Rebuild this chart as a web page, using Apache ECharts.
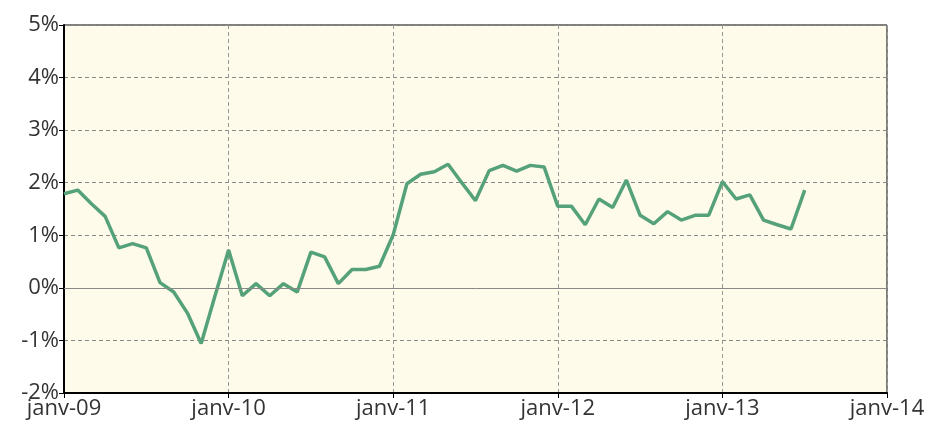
<!DOCTYPE html>
<html style="height: 100%">
<head>
  <meta charset="utf-8">
  <script src="https://cdn.jsdelivr.net/npm/echarts@6/dist/echarts.min.js"></script>
</head>
<body style="height: 100%; margin: 0; background: #fff">
  <div id="main" style="width: 936px; height: 434px"></div>
  <script type="text/javascript">
    // months from janv-09 to janv-14
    var years = ['09', '10', '11', '12', '13', '14'];
    var monthNames = ['janv', 'févr', 'mars', 'avr', 'mai', 'juin', 'juil', 'août', 'sept', 'oct', 'nov', 'déc'];
    // monthly values in %, janv-09 .. juil-13
    var values = [
      1.79, 1.86, 1.60, 1.36, 0.76, 0.84, 0.76, 0.10, -0.08, -0.48, -1.06, -0.16,
      0.72, -0.15, 0.08, -0.15, 0.08, -0.08, 0.68, 0.59, 0.08, 0.35, 0.35, 0.41,
      1.01, 1.98, 2.16, 2.21, 2.35, 2.00, 1.66, 2.23, 2.33, 2.22, 2.33, 2.30,
      1.55, 1.55, 1.20, 1.69, 1.53, 2.05, 1.38, 1.22, 1.45, 1.29, 1.38, 1.38,
      2.02, 1.69, 1.77, 1.29, 1.20, 1.12, 1.86
    ];
    var yTicks = [-2, -1, 0, 1, 2, 3, 4, 5];

    var categories = [];
    for (var y = 0; y < years.length; y++) {
      for (var m = 0; m < 12; m++) {
        categories.push(monthNames[m] + '-' + years[y]);
        if (y == years.length - 1) break;
      }
    }

    var myChart = echarts.init(document.getElementById('main'));
    var option = {
      animation: false,
      grid: {
        left: 64, right: 49, top: 25, bottom: 41,
        show: true,
        backgroundColor: '#fefbea',
        borderColor: '#000',
        borderWidth: 1
      },
      xAxis: {
        type: 'category',
        boundaryGap: false,
        data: categories,
        axisLine: { onZero: false, lineStyle: { color: '#000', width: 2 } },
        axisTick: { interval: 11, length: 5, lineStyle: { color: '#000' } },
        axisLabel: {
          interval: 11,
          color: '#333',
          fontFamily: 'Open Sans',
          fontSize: 22,
          margin: 5
        },
        splitLine: {
          show: true,
          interval: 11,
          lineStyle: { color: '#999', type: [4, 3], width: 1 }
        }
      },
      yAxis: {
        type: 'value',
        min: yTicks[0],
        max: yTicks[yTicks.length - 1],
        interval: 1,
        axisLine: { show: true, lineStyle: { color: '#000', width: 2 } },
        axisTick: { show: true, length: 5, lineStyle: { color: '#000' } },
        axisLabel: {
          formatter: '{value}%',
          color: '#333',
          fontFamily: 'Open Sans',
          fontSize: 22,
          margin: 5
        },
        splitLine: {
          lineStyle: { color: '#888', type: [4, 3], width: 1 }
        }
      },
      series: [{
        type: 'line',
        data: values,
        showSymbol: false,
        lineStyle: { color: '#55a27a', width: 3.5 },
        markLine: {
          silent: true,
          symbol: 'none',
          label: { show: false },
          lineStyle: { color: '#888', type: 'solid', width: 1 },
          data: [{ yAxis: 0 }]
        },
        z: 3
      }]
    };
    myChart.setOption(option);
  </script>
</body>
</html>
